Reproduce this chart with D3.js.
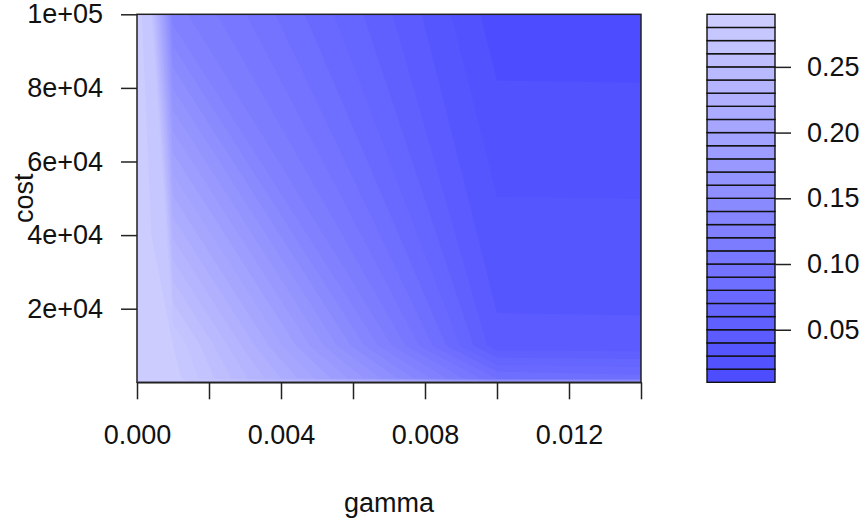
<!DOCTYPE html>
<html lang="en">
<head>
  <meta charset="UTF-8">
  <title>svm tuning: gamma vs cost</title>
  <script src="https://d3js.org/d3.v7.min.js"></script>
  <style>
    body {
      margin: 0;
      background: #fff;
      font-family: 'Liberation Sans', Arial, sans-serif;
    }
    text {
      font-size: 27px;
      fill: #111;
    }
    .axis path, .axis line {
      stroke: #222;
      stroke-width: 1.5px;
    }
  </style>
</head>
<body>
  <div id="chart"></div>

  <script>
    const width = 865;
    const height = 524;

    // grid of the tuning run (gamma across, cost up) and the error
    const gammaValues = [0, 0.0004, 0.001, 0.01, 0.014];
    const costValues = [1, 10, 100, 1000, 10000, 100000];
    const errorRows = [
      [0.285, 0.285, 0.285, 0.285, 0.285],   // cost 1
      [0.285, 0.285, 0.285, 0.270, 0.265],   // cost 10
      [0.285, 0.285, 0.285, 0.200, 0.190],   // cost 100
      [0.285, 0.285, 0.285, 0.090, 0.085],   // cost 1000
      [0.285, 0.285, 0.280, 0.0428, 0.0426], // cost 1e4
      [0.285, 0.270, 0.125, 0.0143, 0.0141]  // cost 1e5
    ];

    const levels = [0.01, 0.02, 0.03, 0.04, 0.05, 0.06, 0.07, 0.08, 0.09, 0.10,
                    0.11, 0.12, 0.13, 0.14, 0.15, 0.16, 0.17, 0.18, 0.19, 0.20,
                    0.21, 0.22, 0.23, 0.24, 0.25, 0.26, 0.27, 0.28, 0.29];

    const gammaTicks = [0, 0.002, 0.004, 0.006, 0.008, 0.010, 0.012, 0.014];
    const gammaTickLabels = ["0.000", "", "0.004", "", "0.008", "", "0.012", ""];
    const costTicks = [20000, 40000, 60000, 80000, 100000];
    const costTickLabels = ["2e+04", "4e+04", "6e+04", "8e+04", "1e+05"];
    const keyTicks = [0.05, 0.10, 0.15, 0.20, 0.25];
    const keyTickLabels = ["0.05", "0.10", "0.15", "0.20", "0.25"];

    const plot = { left: 137, right: 641, top: 14.3, bottom: 382.3 };
    const key = { left: 707, right: 775 };

    const svg = d3.select("#chart")
      .append("svg")
      .attr("width", width)
      .attr("height", height);

    const x = d3.scaleLinear()
      .domain(d3.extent(gammaValues))
      .range([plot.left, plot.right]);

    const y = d3.scaleLinear()
      .domain(d3.extent(costValues))
      .range([plot.bottom, plot.top]);

    // hsv(2/3, s, 1) with s from 0.7 down to 0.2, one colour per band
    const nBands = levels.length - 1;
    const bandColor = d3.scaleLinear()
      .domain([0, nBands - 1])
      .range(["#4d4dff", "#ccccff"])
      .interpolate(d3.interpolateRgb);

    // contours on the index grid, then mapped piecewise-linearly onto the real grid
    const nx = gammaValues.length, ny = costValues.length;
    const flat = [];
    errorRows.forEach(row => row.forEach(v => flat.push(v)));

    const gIndex = d3.scaleLinear().domain(d3.range(nx)).range(gammaValues);
    const cIndex = d3.scaleLinear().domain(d3.range(ny)).range(costValues);
    const clamp = (v, lo, hi) => Math.max(lo, Math.min(hi, v));

    const toScreen = d3.geoTransform({
      point: function(px, py) {
        const gi = clamp(px - 0.5, 0, nx - 1);
        const ci = clamp(py - 0.5, 0, ny - 1);
        this.stream.point(x(gIndex(gi)), y(cIndex(ci)));
      }
    });
    const path = d3.geoPath(toScreen);

    const bands = d3.contours()
      .size([nx, ny])
      .thresholds(levels.slice(0, -1))(flat);

    svg.append("defs").append("clipPath")
      .attr("id", "plot-clip")
      .append("rect")
      .attr("x", plot.left)
      .attr("y", plot.top)
      .attr("width", plot.right - plot.left)
      .attr("height", plot.bottom - plot.top);

    svg.append("g")
      .attr("clip-path", "url(#plot-clip)")
      .selectAll("path")
      .data(bands)
      .enter().append("path")
      .attr("d", path)
      .attr("fill", (d, i) => bandColor(i))
      .attr("stroke", "none");

    // axes
    svg.append("g")
      .attr("class", "axis")
      .attr("transform", `translate(0,${plot.bottom})`)
      .call(d3.axisBottom(x)
        .tickValues(gammaTicks)
        .tickFormat((d, i) => gammaTickLabels[i])
        .tickSize(17)
        .tickSizeOuter(0)
        .tickPadding(26))
      .call(g => g.selectAll("text").attr("font-family", null).attr("font-size", null));

    svg.append("g")
      .attr("class", "axis")
      .attr("transform", `translate(${plot.left},0)`)
      .call(d3.axisLeft(y)
        .tickValues(costTicks)
        .tickFormat((d, i) => costTickLabels[i])
        .tickSize(16)
        .tickSizeOuter(0)
        .tickPadding(18))
      .call(g => g.select(".domain").remove())
      .call(g => g.selectAll("text").attr("font-family", null).attr("font-size", null));

    svg.append("rect")
      .attr("x", plot.left)
      .attr("y", plot.top)
      .attr("width", plot.right - plot.left)
      .attr("height", plot.bottom - plot.top)
      .attr("fill", "none")
      .attr("stroke", "#222")
      .attr("stroke-width", 1.5);

    svg.append("text")
      .attr("x", (plot.left + plot.right) / 2)
      .attr("y", 512)
      .attr("text-anchor", "middle")
      .text("gamma");

    svg.append("text")
      .attr("transform", `translate(33,${(plot.top + plot.bottom) / 2}) rotate(-90)`)
      .attr("text-anchor", "middle")
      .text("cost");

    // colour key
    const k = d3.scaleLinear()
      .domain(d3.extent(levels))
      .range([plot.bottom, plot.top]);

    svg.append("g")
      .selectAll("rect")
      .data(d3.range(nBands))
      .enter().append("rect")
      .attr("x", key.left)
      .attr("width", key.right - key.left)
      .attr("y", i => k(levels[i + 1]))
      .attr("height", i => k(levels[i]) - k(levels[i + 1]))
      .attr("fill", i => bandColor(i))
      .attr("stroke", "#111")
      .attr("stroke-width", 1.4);

    svg.append("g")
      .attr("class", "axis")
      .attr("transform", `translate(${key.right},0)`)
      .call(d3.axisRight(k)
        .tickValues(keyTicks)
        .tickFormat((d, i) => keyTickLabels[i])
        .tickSize(16)
        .tickSizeOuter(0)
        .tickPadding(16))
      .call(g => g.select(".domain").remove())
      .call(g => g.selectAll("text").attr("font-family", null).attr("font-size", null));
  </script>
</body>
</html>
